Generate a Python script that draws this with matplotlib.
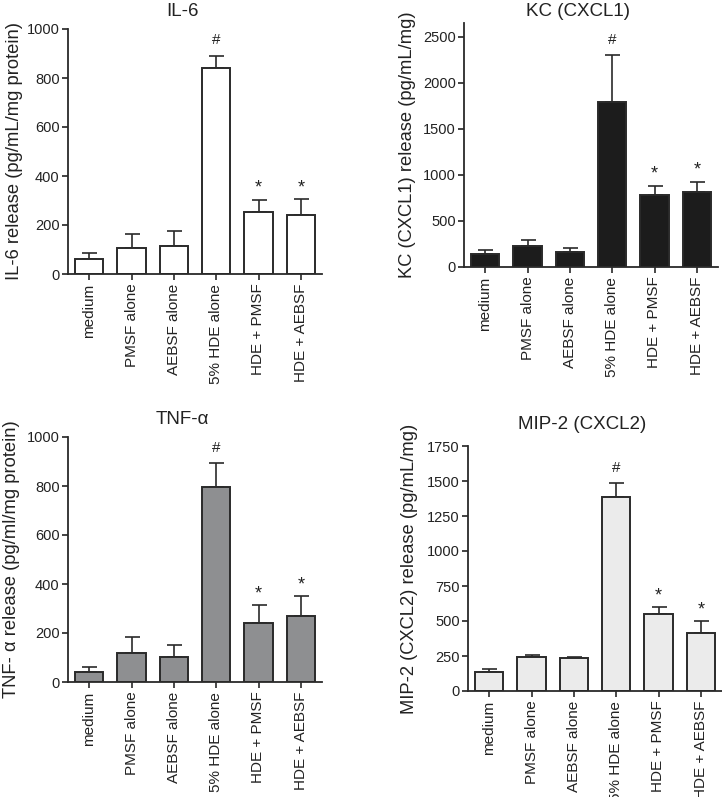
import matplotlib
matplotlib.use("Agg")
import matplotlib.pyplot as plt
import numpy as np

plt.rcParams['font.family'] = ['Liberation Sans', 'DejaVu Sans']

categories = ["medium", "PMSF alone", "AEBSF alone", "5% HDE alone", "HDE + PMSF", "HDE + AEBSF"]
sig_marks = ["", "", "", "#", "*", "*"]

il6_mean = [62, 106, 114, 841, 253, 239]
il6_err = [25, 56, 63, 49, 50, 67]

kc_mean = [145, 224, 163, 1788, 780, 813]
kc_err = [36, 65, 43, 513, 101, 112]

tnf_mean = [41, 118, 101, 796, 241, 271]
tnf_err = [19, 64, 51, 96, 72, 79]

mip2_mean = [133, 240, 233, 1384, 549, 414]
mip2_err = [22, 17, 12, 100, 50, 85]

W, H = 722, 797
fig = plt.figure(figsize=(W / 100, H / 100), dpi=100)

txt = '#222222'
edge = '#2a2a2a'

panels = [
    dict(title="IL-6", ylabel="IL-6 release (pg/mL/mg protein)", mean=il6_mean, err=il6_err,
         color='white', ylim=1000, ticks=np.arange(0, 1001, 200),
         box=(68, 29, 322, 274), labx=15, titley=11),
    dict(title="KC (CXCL1)", ylabel="KC (CXCL1) release (pg/mL/mg)", mean=kc_mean, err=kc_err,
         color='#1c1c1c', ylim=2650, ticks=np.arange(0, 2501, 500),
         box=(464, 23, 718, 267), labx=408, titley=12),
    dict(title="TNF-\u03b1", ylabel="TNF- \u03b1 release (pg/ml/mg protein)", mean=tnf_mean, err=tnf_err,
         color='#8e8f91', ylim=1000, ticks=np.arange(0, 1001, 200),
         box=(68, 437, 322, 682), labx=12, titley=420),
    dict(title="MIP-2 (CXCL2)", ylabel="MIP-2 (CXCL2) release (pg/mL/mg)", mean=mip2_mean, err=mip2_err,
         color='#ebebeb', ylim=1750, ticks=np.arange(0, 1751, 250),
         box=(468, 446, 722, 691), labx=410, titley=424),
]

x = np.arange(len(categories))
for p in panels:
    l, t, r, b = p['box']
    ax = fig.add_axes([l / W, 1 - b / H, (r - l) / W, (b - t) / H])
    ax.errorbar(x, p['mean'], yerr=[np.zeros(len(x)), p['err']], fmt='none',
                ecolor=edge, elinewidth=1.2, capsize=5.4, capthick=1.2, zorder=1)
    ax.bar(x, p['mean'], width=0.67, color=p['color'], edgecolor=edge, linewidth=1.4, zorder=2)
    for xi, m, e, s in zip(x, p['mean'], p['err'], sig_marks):
        if s == '#':
            ax.annotate(s, (xi, m + e), xytext=(0, 8.3), textcoords='offset points',
                        ha='center', va='baseline', fontsize=11, color=txt)
        elif s == '*':
            ax.annotate(s, (xi, m + e), xytext=(0, 5.0), textcoords='offset points',
                        ha='center', va='baseline', fontsize=13, color=txt)
    ax.set_xlim(-0.5, 5.5)
    ax.set_ylim(0, p['ylim'])
    ax.set_yticks(p['ticks'])
    ax.set_xticks(x)
    ax.set_xticklabels(categories, rotation=90, fontsize=11, color=txt)
    ax.tick_params(axis='y', labelsize=10.5, colors=txt, length=4, width=1.2, pad=2)
    ax.tick_params(axis='x', length=4, width=1.2, colors=edge, labelcolor=txt, pad=3)
    for side in ['top', 'right']:
        ax.spines[side].set_visible(False)
    for side in ['left', 'bottom']:
        ax.spines[side].set_linewidth(1.3)
        ax.spines[side].set_color(edge)
    ax.set_ylabel(p['ylabel'], fontsize=13.2, color=txt, va='center')
    ax.yaxis.set_label_coords((p['labx'] - l) / (r - l), 0.5)
    ax.text(0.449, (b - p['titley']) / (b - t), p['title'], transform=ax.transAxes,
            ha='center', va='center', fontsize=13.5, color=txt)

fig.savefig("out.png", dpi=100)
